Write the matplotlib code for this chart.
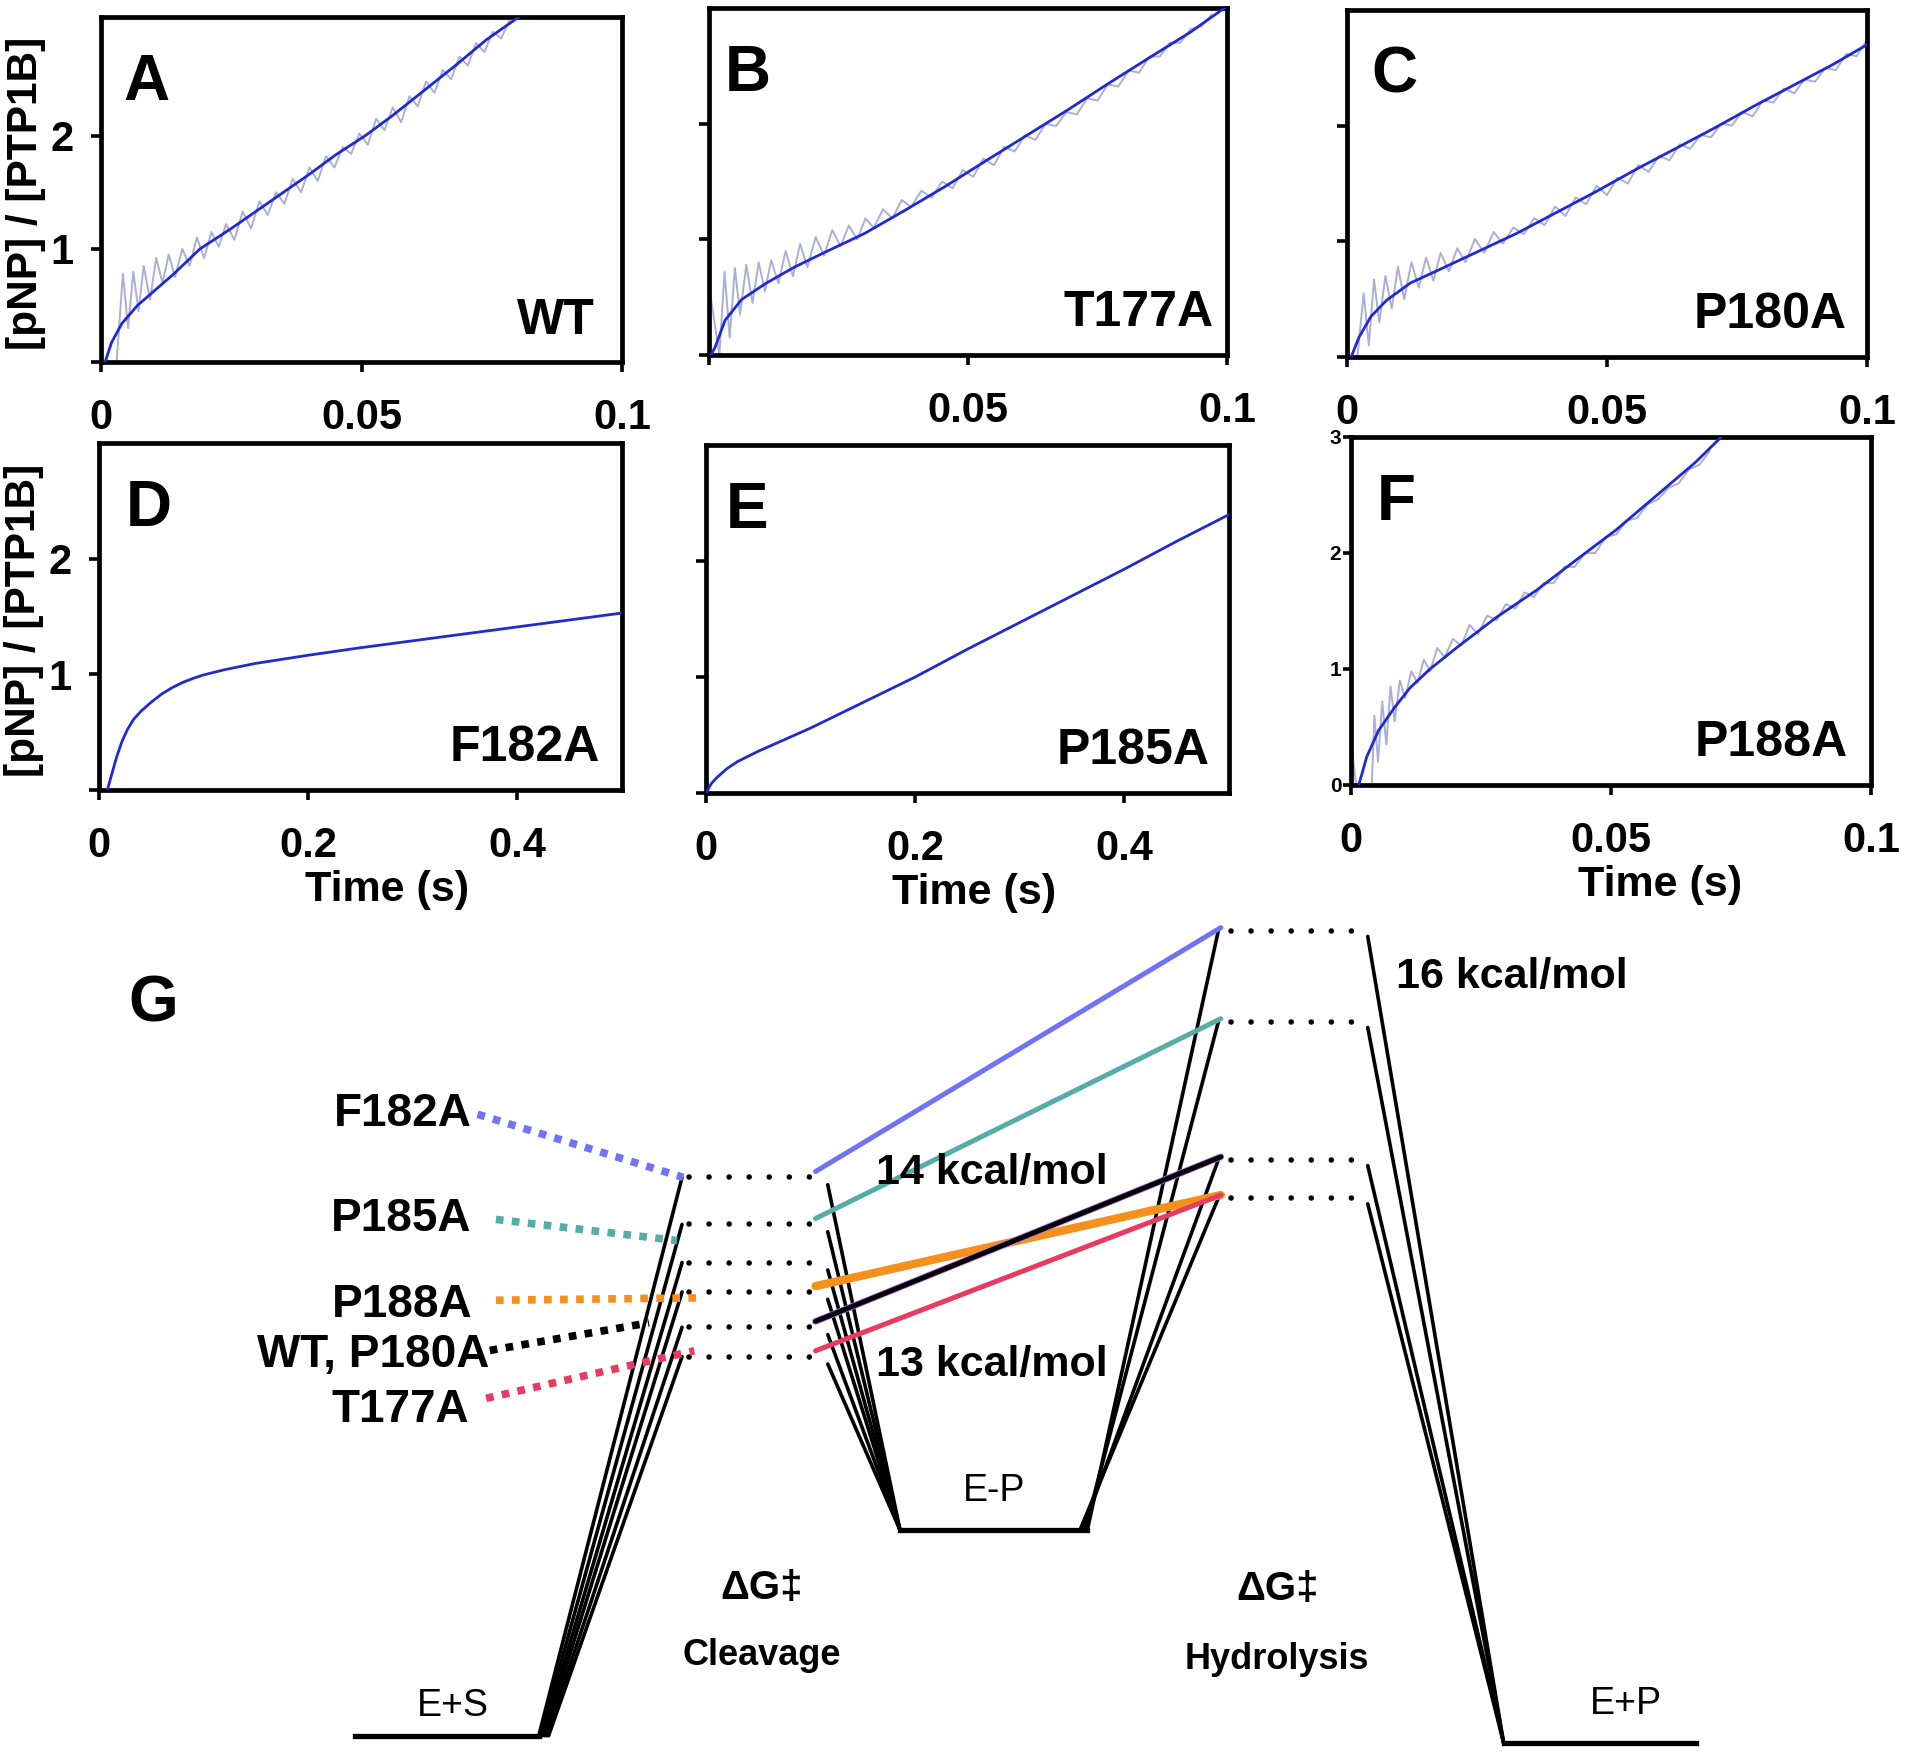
import matplotlib
matplotlib.use("Agg")
import matplotlib.pyplot as plt

plt.rcParams["font.family"] = ["Liberation Sans", "DejaVu Sans"]
plt.rcParams["font.weight"] = "bold"
plt.rcParams["axes.labelweight"] = "bold"

# ---------------- kinetic traces (panels A-F) ----------------
# fitted burst curves
wt_fit_t = [0.0008, 0.002, 0.004, 0.007, 0.010, 0.014, 0.019, 0.025, 0.030, 0.035,
            0.040, 0.045, 0.0507, 0.056, 0.062, 0.068, 0.074, 0.0805]
wt_fit_y = [0.00, 0.17, 0.34, 0.50, 0.62, 0.78, 1.00, 1.18, 1.34, 1.50,
            1.66, 1.83, 2.00, 2.18, 2.40, 2.62, 2.85, 3.06]

t177a_fit_t = [0.0004, 0.0012, 0.0031, 0.0063, 0.011, 0.0165, 0.022, 0.030, 0.0378,
               0.0457, 0.0535, 0.0614, 0.0693, 0.0772, 0.085, 0.0929, 0.0995]
t177a_fit_y = [0.00, 0.07, 0.30, 0.48, 0.62, 0.76, 0.88, 1.05, 1.25,
               1.46, 1.68, 1.90, 2.12, 2.35, 2.57, 2.79, 3.00]

p180a_fit_t = [0.0008, 0.0023, 0.0046, 0.0076, 0.0122, 0.0175, 0.0251, 0.0327, 0.0403,
               0.0479, 0.0555, 0.0631, 0.0707, 0.0783, 0.0859, 0.0935, 0.100]
p180a_fit_y = [0.00, 0.17, 0.35, 0.49, 0.64, 0.75, 0.91, 1.07, 1.25,
               1.43, 1.62, 1.80, 1.98, 2.17, 2.35, 2.53, 2.70]

f182a_fit_t = [0.008, 0.012, 0.017, 0.022, 0.027, 0.033, 0.040, 0.050, 0.060, 0.070,
               0.080, 0.090, 0.100, 0.120, 0.150, 0.200, 0.250, 0.300, 0.350, 0.400,
               0.450, 0.500]
f182a_fit_y = [0.00, 0.13, 0.29, 0.42, 0.52, 0.61, 0.68, 0.76, 0.83, 0.885,
               0.93, 0.965, 0.995, 1.04, 1.095, 1.165, 1.23, 1.29, 1.35, 1.41,
               1.47, 1.53]

p185a_fit_t = [0.0, 0.005, 0.010, 0.020, 0.030, 0.050, 0.075, 0.100, 0.150, 0.200,
               0.250, 0.300, 0.350, 0.400, 0.450, 0.500]
p185a_fit_y = [0.00, 0.08, 0.13, 0.21, 0.27, 0.36, 0.46, 0.56, 0.78, 1.00,
               1.24, 1.47, 1.70, 1.93, 2.17, 2.40]

p188a_fit_t = [0.0015, 0.003, 0.0053, 0.0084, 0.0114, 0.0152, 0.0205, 0.0281, 0.0357,
               0.0433, 0.051, 0.0586, 0.0662, 0.0712]
p188a_fit_y = [0.00, 0.24, 0.47, 0.67, 0.84, 1.00, 1.19, 1.45, 1.68,
               1.94, 2.20, 2.49, 2.78, 3.00]

# raw stopped-flow traces (noisy grey)
wt_raw_t = [0.0030, 0.0042, 0.0052, 0.0062, 0.0072, 0.0082, 0.0094, 0.0106, 0.0118, 0.0130,
            0.0142, 0.0156, 0.0170, 0.0184, 0.0198, 0.0212, 0.0226, 0.0240, 0.0256, 0.0272,
            0.0288, 0.0304, 0.0320, 0.0336, 0.0352, 0.0368, 0.0384, 0.0400, 0.0416, 0.0432,
            0.0448, 0.0464, 0.0480, 0.0496, 0.0512, 0.0528, 0.0544, 0.0560, 0.0576, 0.0592,
            0.0608, 0.0624, 0.0640, 0.0656, 0.0672, 0.0688, 0.0704, 0.0720, 0.0736, 0.0752,
            0.0768, 0.0784]
wt_raw_y = [0.00, 0.78, 0.30, 0.80, 0.45, 0.85, 0.55, 0.92, 0.70, 0.95,
            0.75, 1.00, 0.85, 1.10, 0.92, 1.15, 1.02, 1.22, 1.08, 1.33,
            1.18, 1.42, 1.30, 1.50, 1.40, 1.62, 1.50, 1.72, 1.60, 1.82,
            1.72, 1.90, 1.84, 2.02, 1.92, 2.15, 2.05, 2.25, 2.12, 2.35,
            2.26, 2.48, 2.38, 2.58, 2.50, 2.70, 2.62, 2.82, 2.74, 2.92,
            2.86, 3.02]

t177a_raw_t = [0.0000, 0.0010, 0.0020, 0.0030, 0.0040, 0.0050, 0.0060, 0.0072, 0.0084, 0.0096,
               0.0108, 0.0120, 0.0134, 0.0148, 0.0162, 0.0176, 0.0190, 0.0206, 0.0222, 0.0238,
               0.0254, 0.0270, 0.0286, 0.0302, 0.0318, 0.0336, 0.0354, 0.0372, 0.0390, 0.0410,
               0.0430, 0.0450, 0.0470, 0.0490, 0.0510, 0.0530, 0.0550, 0.0570, 0.0590, 0.0610,
               0.0630, 0.0650, 0.0670, 0.0690, 0.0710, 0.0730, 0.0750, 0.0770, 0.0790, 0.0810,
               0.0830, 0.0850, 0.0870, 0.0890, 0.0910, 0.0930, 0.0950, 0.0970]
t177a_raw_y = [0.60, 0.30, 0.00, 0.72, 0.15, 0.75, 0.35, 0.78, 0.45, 0.80,
               0.55, 0.82, 0.62, 0.90, 0.68, 0.96, 0.76, 1.02, 0.86, 1.08,
               0.94, 1.12, 1.00, 1.18, 1.10, 1.26, 1.18, 1.34, 1.28, 1.42,
               1.36, 1.50, 1.44, 1.60, 1.54, 1.70, 1.64, 1.80, 1.76, 1.90,
               1.86, 2.00, 1.98, 2.10, 2.08, 2.22, 2.20, 2.34, 2.32, 2.46,
               2.44, 2.58, 2.58, 2.70, 2.70, 2.82, 2.84, 2.94]

p180a_raw_t = [0.0020, 0.0032, 0.0042, 0.0052, 0.0062, 0.0074, 0.0086, 0.0098, 0.0110, 0.0124,
               0.0138, 0.0152, 0.0166, 0.0180, 0.0196, 0.0212, 0.0228, 0.0246, 0.0264, 0.0282,
               0.0300, 0.0320, 0.0340, 0.0360, 0.0380, 0.0400, 0.0420, 0.0440, 0.0460, 0.0480,
               0.0500, 0.0520, 0.0540, 0.0560, 0.0580, 0.0600, 0.0620, 0.0640, 0.0660, 0.0680,
               0.0700, 0.0720, 0.0740, 0.0760, 0.0780, 0.0800, 0.0820, 0.0840, 0.0860, 0.0880,
               0.0900, 0.0920, 0.0940, 0.0960, 0.0980, 0.1000]
p180a_raw_y = [0.00, 0.55, 0.10, 0.67, 0.30, 0.70, 0.42, 0.78, 0.50, 0.82,
               0.60, 0.86, 0.66, 0.90, 0.74, 0.94, 0.82, 1.02, 0.90, 1.08,
               0.98, 1.12, 1.06, 1.20, 1.14, 1.30, 1.22, 1.38, 1.32, 1.48,
               1.40, 1.55, 1.50, 1.66, 1.60, 1.74, 1.70, 1.84, 1.80, 1.92,
               1.90, 2.02, 2.00, 2.12, 2.08, 2.22, 2.20, 2.32, 2.28, 2.40,
               2.38, 2.50, 2.48, 2.62, 2.60, 2.74]

p188a_raw_t = [0.0002, 0.0010, 0.0040, 0.0045, 0.0052, 0.0060, 0.0068, 0.0076, 0.0084, 0.0094,
               0.0104, 0.0116, 0.0128, 0.0140, 0.0152, 0.0166, 0.0180, 0.0196, 0.0212, 0.0228,
               0.0244, 0.0262, 0.0280, 0.0298, 0.0316, 0.0334, 0.0352, 0.0370, 0.0390, 0.0410,
               0.0430, 0.0450, 0.0470, 0.0490, 0.0510, 0.0530, 0.0550, 0.0570, 0.0590, 0.0610,
               0.0630, 0.0650, 0.0670, 0.0690]
p188a_raw_y = [0.30, 0.00, 0.00, 0.60, 0.20, 0.72, 0.35, 0.85, 0.55, 0.90,
               0.75, 0.98, 0.88, 1.08, 0.98, 1.18, 1.10, 1.26, 1.20, 1.38,
               1.30, 1.46, 1.42, 1.56, 1.52, 1.66, 1.62, 1.74, 1.74, 1.88,
               1.88, 2.00, 2.00, 2.14, 2.16, 2.28, 2.30, 2.42, 2.46, 2.56,
               2.60, 2.72, 2.76, 2.88]

panel_letters = ["A", "B", "C", "D", "E", "F"]
panel_mutants = ["WT", "T177A", "P180A", "F182A", "P185A", "P188A"]

# ---------------- free-energy diagram (panel G) ----------------
mutants = ["F182A", "P185A", "P188A", "WT", "P180A", "T177A"]
mutant_colors = ["#7272f7", "#55ada6", "#f5901c", "#000000", "#b26cf2", "#e93a62"]
cleavage_barrier = [19.1, 17.5, 15.2, 14.0, 14.0, 13.0]    # diagram units
hydrolysis_barrier = [27.5, 24.4, 18.4, 19.7, 19.7, 18.4]
cleavage_levels = [19.1, 17.5, 16.2, 15.2, 14.0, 13.0]
hydrolysis_levels = [27.5, 24.4, 19.7, 18.4]
state_es = 0.1
state_ep = 7.1
state_fp = -0.15

label_names = ["F182A", "P185A", "P188A", "WT, P180A", "T177A"]
label_colors = ["#7272f7", "#55ada6", "#f5901c", "#000000", "#e93a62"]
label_levels = [19.1, 16.95, 15.0, 14.15, 13.2]

BLUE = "#1f2bcc"
GREY = "#abaed8"

fig = plt.figure(figsize=(19.2, 17.57), dpi=100)
W, H = 1920.0, 1757.0


def add_box(left, top, right, bottom):
    return fig.add_axes([left / W, 1 - bottom / H, (right - left) / W, (bottom - top) / H])


boxes = [(101, 17, 622, 362), (709, 8, 1227, 355), (1347, 10, 1867, 357),
         (99, 443, 622, 790), (706, 445, 1229, 793), (1351, 437, 1871, 785)]
fits = [(wt_fit_t, wt_fit_y), (t177a_fit_t, t177a_fit_y), (p180a_fit_t, p180a_fit_y),
        (f182a_fit_t, f182a_fit_y), (p185a_fit_t, p185a_fit_y), (p188a_fit_t, p188a_fit_y)]
raws = [(wt_raw_t, wt_raw_y), (t177a_raw_t, t177a_raw_y), (p180a_raw_t, p180a_raw_y),
        None, None, (p188a_raw_t, p188a_raw_y)]
xmax = [0.1, 0.1, 0.1, 0.5, 0.5, 0.1]
ymax = [3.05, 3.0, 3.0, 3.0, 3.0, 3.0]
letter_x = [0.088, 0.075, 0.092, 0.096, 0.078, 0.087]
name_x = [0.948, 0.975, 0.96, 0.958, 0.963, 0.955]

for i, box in enumerate(boxes):
    ax = add_box(*box)
    raw = raws[i]
    if raw is not None:
        ax.plot(raw[0], raw[1], color=GREY, lw=1.4, zorder=2)
    ax.plot(fits[i][0], fits[i][1], color=BLUE, lw=2.0, zorder=3)
    ax.set_xlim(0, xmax[i])
    ax.set_ylim(0, ymax[i])

    for s in ax.spines.values():
        s.set_linewidth(3.4)
    ax.tick_params(direction="out", length=7, width=2.6, top=False, right=False,
                   labelsize=30, pad=19)

    if xmax[i] == 0.1:
        ax.set_xticks([0, 0.05, 0.1])
        xl = ["0", "0.05", "0.1"]
        if i == 1:
            xl[0] = ""
        ax.set_xticklabels(xl)
    else:
        ax.set_xticks([0, 0.2, 0.4])
        ax.set_xticklabels(["0", "0.2", "0.4"])

    if i == 5:
        ax.set_yticks([0, 1, 2, 3])
        ax.set_yticklabels(["0", "1", "2", "3"], fontsize=15)
        ax.tick_params(axis="y", pad=1, length=6)
    else:
        ax.set_yticks([0, 1, 2])
        if i in (0, 3):
            ax.set_yticklabels(["", "1", "2"])
            ax.tick_params(axis="y", pad=13)
            ax.set_ylabel("[pNP] / [PTP1B]", fontsize=30.5)
            ax.yaxis.set_label_coords(-0.106, 0.49)
        else:
            ax.set_yticklabels(["", "", ""])

    if i >= 3:
        ax.set_xlabel("Time (s)", fontsize=31)
        ax.xaxis.set_label_coords([0.55, 0.512, 0.594][i - 3], -0.23)

    ax.text(letter_x[i], 0.81, panel_letters[i], transform=ax.transAxes,
            fontsize=46, ha="center", va="center")
    ax.text(name_x[i], 0.12, panel_mutants[i], transform=ax.transAxes,
            fontsize=36, ha="right", va="center")

# ---------------- panel G ----------------
axg = fig.add_axes([0, 0, 1, 857 / H])
axg.set_xlim(0, 15.68)
axg.set_ylim(-0.625, 28.54)
axg.axis("off")

es_x = (2.90, 4.40)
ts1_x = (5.63, 6.68)
ep_x = (7.35, 8.88)
ts2_x = (10.05, 11.15)
fp_x = (12.28, 13.85)

dot_kw = dict(color="black", lw=4.0, dashes=(0.01, 3.6), dash_capstyle="round")
black_kw = dict(color="black", lw=2.6, solid_capstyle="round")

# ground states
axg.plot(es_x, [state_es, state_es], color="black", lw=3.8)
axg.plot(ep_x, [state_ep, state_ep], color="black", lw=3.8)
axg.plot(fp_x, [state_fp, state_fp], color="black", lw=3.8)

# cleavage transition states
for k, lvl in enumerate(cleavage_levels):
    axg.plot(ts1_x, [lvl, lvl], **dot_kw)
    axg.plot([es_x[1] + 0.016 * k, 5.57], [state_es, lvl], **black_kw)
    axg.plot([6.76, ep_x[0]], [lvl - 0.25, state_ep], **black_kw)

# hydrolysis transition states
for k, lvl in enumerate(hydrolysis_levels):
    axg.plot(ts2_x, [lvl, lvl], **dot_kw)
    axg.plot([ep_x[1] - 0.02 * k, 9.95], [state_ep, lvl], **black_kw)
    axg.plot([11.17, fp_x[0]], [lvl - 0.2, state_fp], **black_kw)

# mutant paths between the two transition states
for name, c, g1, g2 in zip(mutants, mutant_colors, cleavage_barrier, hydrolysis_barrier):
    lw = 6.0 if name == "P188A" else 3.6
    if name == "P180A":
        lw = 4.8
    z = 4 if name == "WT" else 3
    axg.plot([6.66, 9.97], [g1 + 0.2, g2 + 0.1], color=c, lw=lw, zorder=z,
             solid_capstyle="round")

# mutant labels with dotted leaders
label_pos = [(3.85, 21.25), (3.85, 17.67), (3.86, 14.75), (4.00, 13.04), (3.83, 11.17)]
leader_x = [(3.90, 5.58), (4.05, 5.53), (4.05, 5.70), (4.00, 5.30), (3.97, 5.67)]
leader_y0 = [21.25, 17.67, 14.92, 13.21, 11.58]
for name, c, lvl, pos, lx, ly0 in zip(label_names, label_colors, label_levels,
                                       label_pos, leader_x, leader_y0):
    axg.text(pos[0], pos[1], name, fontsize=33, ha="right", va="center")
    axg.plot(lx, [ly0, lvl], color=c, lw=5.5, dashes=(1.0, 1.1), zorder=5)

axg.text(1.25, 25.0, "G", fontsize=46, ha="center", va="center")
axg.text(8.10, 19.25, "14 kcal/mol", fontsize=31, ha="center", va="center")
axg.text(8.10, 12.71, "13 kcal/mol", fontsize=31, ha="center", va="center")
axg.text(11.40, 25.92, "16 kcal/mol", fontsize=31, ha="left", va="center")
axg.text(3.70, 1.125, "E+S", fontsize=27, fontweight="normal", ha="center", va="center")
axg.text(8.12, 8.42, "E-P", fontsize=27, fontweight="normal", ha="center", va="center")
axg.text(13.28, 1.17, "E+P", fontsize=27, fontweight="normal", ha="center", va="center")
axg.text(6.22, 5.125, "\u0394G\u2021", fontsize=29, ha="center", va="center")
axg.text(6.22, 2.83, "Cleavage", fontsize=26, ha="center", va="center")
axg.text(10.43, 5.08, "\u0394G\u2021", fontsize=29, ha="center", va="center")
axg.text(10.43, 2.71, "Hydrolysis", fontsize=26, ha="center", va="center")

fig.savefig("out.png", dpi=100)
